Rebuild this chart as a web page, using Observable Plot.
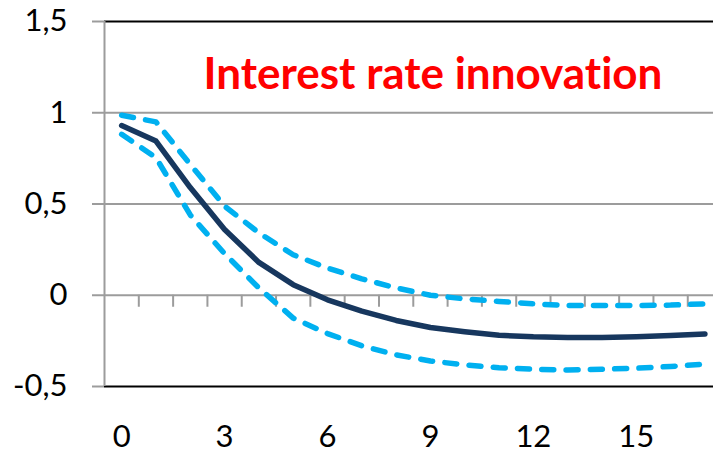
<!DOCTYPE html>
<html>
<head>
<meta charset="utf-8">
<script src="https://cdn.jsdelivr.net/npm/d3@7"></script>
<script src="https://cdn.jsdelivr.net/npm/@observablehq/plot@0.6"></script>
<style>
  html, body { margin: 0; padding: 0; background: #fff; }
  svg text { font-variant-ligatures: none; font-feature-settings: "liga" 0, "clig" 0; }
</style>
</head>
<body>
<div id="chart"></div>
<script>
const title = "Interest rate innovation";
const categories = [0, 1, 2, 3, 4, 5, 6, 7, 8, 9, 10, 11, 12, 13, 14, 15, 16, 17];
const median = [0.93, 0.845, 0.59, 0.36, 0.18, 0.058, -0.025, -0.087, -0.138, -0.177, -0.200, -0.219, -0.228, -0.232, -0.232, -0.228, -0.221, -0.212];
const upper  = [0.986, 0.95, 0.717, 0.488, 0.342, 0.222, 0.149, 0.09, 0.04, 0.0, -0.02, -0.034, -0.047, -0.056, -0.056, -0.056, -0.054, -0.047];
const lower  = [0.882, 0.754, 0.44, 0.228, 0.04, -0.125, -0.21, -0.277, -0.327, -0.36, -0.382, -0.397, -0.405, -0.41, -0.405, -0.40, -0.39, -0.378];
const xTicks = [0, 3, 6, 9, 12, 15];
const yTicks = [-0.5, 0, 0.5, 1, 1.5];
const yTickLabels = ["-0,5", "0", "0,5", "1", "1,5"];

const W = 713, H = 452, mL = 104, mR = 0, mT = 21, mB = 66;
const xDomain = [categories[0] - 0.5, categories[categories.length - 1] + 0.25];
const yDomain = [yTicks[0], yTicks[yTicks.length - 1]];
const pxPerUnit = (H - mT - mB) / (yDomain[1] - yDomain[0]);
const catTickLen = 12 / pxPerUnit;
const boundaries = categories.slice(0, -1).map(c => c + 0.5);

const rows = (vals) => categories.map((c, i) => ({x: c, y: vals[i]}));
const gray = "#9c9c9c";

const chart = Plot.plot({
  width: W,
  height: H,
  marginLeft: mL,
  marginRight: mR,
  marginTop: mT,
  marginBottom: mB,
  style: {fontFamily: "Lato, sans-serif", fontSize: "31px", color: "#000", background: "#fff", overflow: "visible"},
  x: {domain: xDomain, label: null},
  y: {domain: yDomain, label: null},
  marks: [
    Plot.ruleY(yTicks.filter(v => v !== yDomain[0] && v !== yDomain[1]), {stroke: gray, strokeWidth: 2}),
    Plot.ruleY([yDomain[0], yDomain[1]], {stroke: "#000", strokeWidth: 2}),
    Plot.ruleX([xDomain[0]], {stroke: gray, strokeWidth: 2}),
    Plot.ruleX(boundaries, {y1: 0, y2: -catTickLen, stroke: gray, strokeWidth: 2}),
    Plot.axisY({ticks: yTicks, label: null, tickFormat: (d) => yTickLabels[yTicks.indexOf(d)], tickSize: 12, tickPadding: 25, stroke: gray, strokeWidth: 2, fill: "#000", fontSize: 31}),
    Plot.axisX({ticks: xTicks, label: null, tickFormat: (d) => String(d), tickSize: 0, tickPadding: 38, fill: "#000", fontSize: 31}),
    Plot.line(rows(upper), {x: "x", y: "y", stroke: "#00B0F0", strokeWidth: 5.5, strokeDasharray: "12,12.3", strokeLinecap: "round", strokeLinejoin: "round"}),
    Plot.line(rows(lower), {x: "x", y: "y", stroke: "#00B0F0", strokeWidth: 5.5, strokeDasharray: "12,12.3", strokeLinecap: "round", strokeLinejoin: "round"}),
    Plot.line(rows(median), {x: "x", y: "y", stroke: "#17375E", strokeWidth: 5.5, strokeLinecap: "round", strokeLinejoin: "round"}),
    Plot.text([title], {frameAnchor: "top", textAnchor: "middle", lineAnchor: "top", dx: 24, dy: 36, fill: "#FF0000", fontWeight: "bold", fontSize: 44, fontFamily: "Lato, sans-serif"})
  ]
});
document.getElementById("chart").appendChild(chart);
</script>
</body>
</html>
